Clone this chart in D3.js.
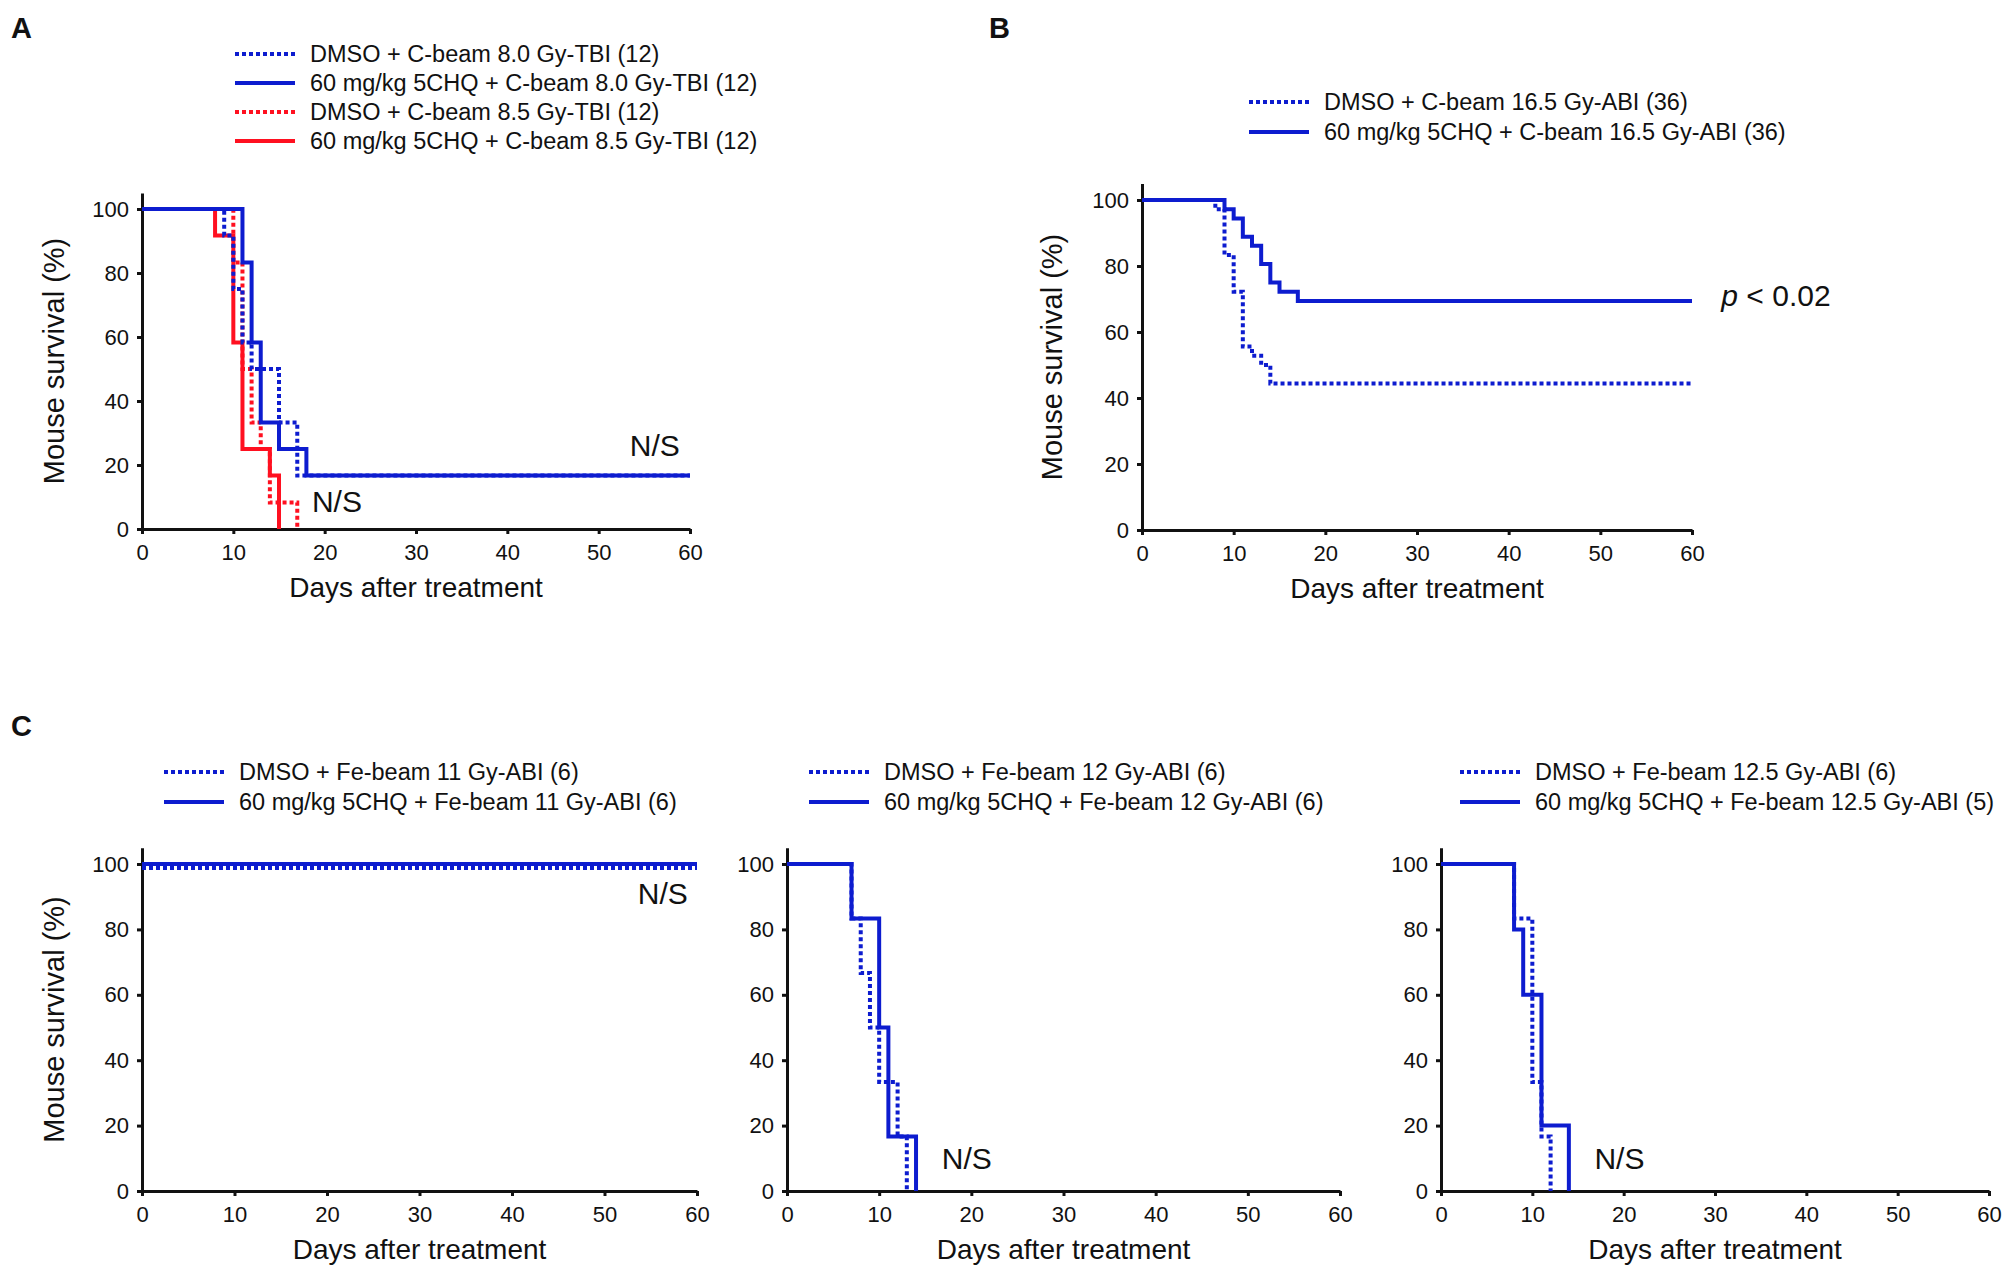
<!DOCTYPE html>
<html>
<head>
<meta charset="utf-8">
<script src="https://cdn.jsdelivr.net/npm/d3@7"></script>
<style>
  body { margin: 0; background: #fff; }
  svg text { font-family: "Liberation Sans", Arial, sans-serif; fill: #111; }
</style>
</head>
<body>
<div class="chart"></div>
<script>
// ---- data (day, survival %) ----
// Panel A
const daysA_dmso80 = [0, 9, 10, 11, 12, 15, 17, 60];
const survA_dmso80 = [100, 91.7, 75, 58.3, 50, 33.3, 16.7, 16.7];
const daysA_chq80 = [0, 11, 12, 13, 15, 18, 60];
const survA_chq80 = [100, 83.3, 58.3, 33.3, 25, 16.7, 16.7];
const daysA_dmso85 = [0, 10, 11, 12, 13, 14, 17];
const survA_dmso85 = [100, 83.3, 50, 33.3, 25, 8.3, 0];
const daysA_chq85 = [0, 8, 10, 11, 14, 15];
const survA_chq85 = [100, 91.7, 58.3, 25, 16.7, 0];
// Panel B
const daysB_dmso = [0, 8, 9, 10, 11, 12, 13, 14, 60];
const survB_dmso = [100, 97.2, 83.3, 72.2, 55.6, 52.8, 50, 44.4, 44.4];
const daysB_chq = [0, 9, 10, 11, 12, 13, 14, 15, 17, 60];
const survB_chq = [100, 97.2, 94.4, 88.9, 86.1, 80.6, 75, 72.2, 69.4, 69.4];
// Panel C
const daysC1_dmso = [0, 60];
const survC1_dmso = [98.8, 98.8];
const daysC1_chq = [0, 60];
const survC1_chq = [100, 100];
const daysC2_dmso = [0, 7, 8, 9, 10, 12, 13];
const survC2_dmso = [100, 83.3, 66.7, 50, 33.3, 16.7, 0];
const daysC2_chq = [0, 7, 10, 11, 14];
const survC2_chq = [100, 83.3, 50, 16.7, 0];
const daysC3_dmso = [0, 8, 10, 11, 12];
const survC3_dmso = [100, 83.3, 33.3, 16.7, 0];
const daysC3_chq = [0, 8, 9, 11, 14];
const survC3_chq = [100, 80, 60, 20, 0];

const xTicks = [0, 10, 20, 30, 40, 50, 60];
const yTicks = [0, 20, 40, 60, 80, 100];

const legendA = [
  "DMSO + C-beam 8.0 Gy-TBI (12)",
  "60 mg/kg 5CHQ + C-beam 8.0 Gy-TBI (12)",
  "DMSO + C-beam 8.5 Gy-TBI (12)",
  "60 mg/kg 5CHQ + C-beam 8.5 Gy-TBI (12)"
];
const legendB = [
  "DMSO + C-beam 16.5 Gy-ABI (36)",
  "60 mg/kg 5CHQ + C-beam 16.5 Gy-ABI (36)"
];
const legendC1 = ["DMSO + Fe-beam 11 Gy-ABI (6)", "60 mg/kg 5CHQ + Fe-beam 11 Gy-ABI (6)"];
const legendC2 = ["DMSO + Fe-beam 12 Gy-ABI (6)", "60 mg/kg 5CHQ + Fe-beam 12 Gy-ABI (6)"];
const legendC3 = ["DMSO + Fe-beam 12.5 Gy-ABI (6)", "60 mg/kg 5CHQ + Fe-beam 12.5 Gy-ABI (5)"];

const BLUE = "#0d1ccf",
  RED = "#ff1020";

const width = 2008,
  height = 1270;

const svg = d3
  .select(".chart")
  .append("svg")
  .attr("width", width)
  .attr("height", height);

const zip = (days, surv) => days.map((d, i) => [d, surv[i]]);

function panel(opt) {
  const x = d3.scaleLinear().domain([0, 60]).range([opt.x0, opt.x1]);
  const pxPer = (opt.y0 - opt.y100) / 100;
  const y = d3.scaleLinear().domain([0, 105]).range([opt.y0, opt.y0 - 105 * pxPer]);

  // axes
  const xAxis = d3.axisBottom(x).tickValues(xTicks).tickSize(5).tickPadding(10).tickSizeOuter(0);
  const yAxis = d3.axisLeft(y).tickValues(yTicks).tickSize(5).tickPadding(8).tickSizeOuter(0);

  const gx = svg.append("g").attr("transform", `translate(0,${opt.y0})`).call(xAxis);
  const gy = svg.append("g").attr("transform", `translate(${opt.x0},0)`).call(yAxis);
  [gx, gy].forEach((g) => {
    g.selectAll("path, line").attr("stroke", "#111").attr("stroke-width", 3);
    g.selectAll("text").style("font-size", "22px").attr("fill", "#111");
  });

  // survival curves (step after)
  const line = d3
    .line()
    .x((d) => x(d[0]))
    .y((d) => y(d[1]))
    .curve(d3.curveStepAfter);

  opt.series.forEach((s) => {
    svg
      .append("path")
      .datum(s.pts)
      .attr("d", line)
      .attr("fill", "none")
      .attr("stroke", s.color)
      .attr("stroke-width", 4)
      .attr("stroke-dasharray", s.dash ? "4,3" : null)
      .attr("stroke-linejoin", "miter");
  });

  // axis titles
  svg
    .append("text")
    .attr("x", (opt.x0 + opt.x1) / 2)
    .attr("y", opt.y0 + 68)
    .attr("text-anchor", "middle")
    .style("font-size", "28px")
    .text("Days after treatment");

  if (opt.yTitle) {
    svg
      .append("text")
      .attr("transform", `translate(${opt.yTitleX},${(opt.y0 + opt.y100) / 2 - 8}) rotate(-90)`)
      .attr("text-anchor", "middle")
      .attr("dy", "0.35em")
      .style("font-size", "29px")
      .text("Mouse survival (%)");
  }

  // legend
  opt.legend.forEach((label, i) => {
    const s = opt.series[opt.legendOrder[i]];
    const ly = opt.legY + i * opt.legStep;
    svg
      .append("line")
      .attr("x1", opt.legX)
      .attr("x2", opt.legX + 60)
      .attr("y1", ly)
      .attr("y2", ly)
      .attr("stroke", s.color)
      .attr("stroke-width", 4)
      .attr("stroke-dasharray", s.dash ? "4,3" : null);
    svg
      .append("text")
      .attr("x", opt.legX + 75)
      .attr("y", ly)
      .attr("dy", "0.35em")
      .style("font-size", "23.5px")
      .text(label);
  });

  // annotations
  (opt.notes || []).forEach((n) => {
    const t = svg
      .append("text")
      .attr("x", x(n.day))
      .attr("y", y(n.val))
      .attr("dy", "0.35em")
      .style("font-size", "30px");
    if (n.italic) {
      t.append("tspan").style("font-style", "italic").text(n.italic);
      t.append("tspan").text(n.text);
    } else {
      t.text(n.text);
    }
  });
}

// panel letters
[["A", 11, 38], ["B", 989, 38], ["C", 11, 736]].forEach((l) => {
  svg
    .append("text")
    .attr("x", l[1])
    .attr("y", l[2])
    .style("font-size", "29px")
    .style("font-weight", "bold")
    .text(l[0]);
});

panel({
  x0: 142, x1: 690, y0: 529, y100: 209,
  yTitle: true, yTitleX: 54,
  series: [
    { pts: zip(daysA_dmso85, survA_dmso85), color: RED, dash: true },
    { pts: zip(daysA_chq85, survA_chq85), color: RED, dash: false },
    { pts: zip(daysA_dmso80, survA_dmso80), color: BLUE, dash: true },
    { pts: zip(daysA_chq80, survA_chq80), color: BLUE, dash: false }
  ],
  legend: legendA, legendOrder: [2, 3, 0, 1],
  legX: 235, legY: 54, legStep: 29,
  notes: [
    { day: 53.4, val: 26, text: "N/S" },
    { day: 18.6, val: 8.5, text: "N/S" }
  ]
});

panel({
  x0: 1142, x1: 1692, y0: 530, y100: 200,
  yTitle: true, yTitleX: 1052,
  series: [
    { pts: zip(daysB_dmso, survB_dmso), color: BLUE, dash: true },
    { pts: zip(daysB_chq, survB_chq), color: BLUE, dash: false }
  ],
  legend: legendB, legendOrder: [0, 1],
  legX: 1249, legY: 102, legStep: 30,
  notes: [{ day: 63.2, val: 71, italic: "p", text: " < 0.02" }]
});

panel({
  x0: 142, x1: 697, y0: 1191, y100: 864,
  yTitle: true, yTitleX: 54,
  series: [
    { pts: zip(daysC1_dmso, survC1_dmso), color: BLUE, dash: true },
    { pts: zip(daysC1_chq, survC1_chq), color: BLUE, dash: false }
  ],
  legend: legendC1, legendOrder: [0, 1],
  legX: 164, legY: 772, legStep: 30,
  notes: [{ day: 53.6, val: 91, text: "N/S" }]
});

panel({
  x0: 787, x1: 1340, y0: 1191, y100: 864,
  series: [
    { pts: zip(daysC2_dmso, survC2_dmso), color: BLUE, dash: true },
    { pts: zip(daysC2_chq, survC2_chq), color: BLUE, dash: false }
  ],
  legend: legendC2, legendOrder: [0, 1],
  legX: 809, legY: 772, legStep: 30,
  notes: [{ day: 16.8, val: 9.8, text: "N/S" }]
});

panel({
  x0: 1441, x1: 1989, y0: 1191, y100: 864,
  series: [
    { pts: zip(daysC3_dmso, survC3_dmso), color: BLUE, dash: true },
    { pts: zip(daysC3_chq, survC3_chq), color: BLUE, dash: false }
  ],
  legend: legendC3, legendOrder: [0, 1],
  legX: 1460, legY: 772, legStep: 30,
  notes: [{ day: 16.8, val: 9.8, text: "N/S" }]
});
</script>
</body>
</html>
